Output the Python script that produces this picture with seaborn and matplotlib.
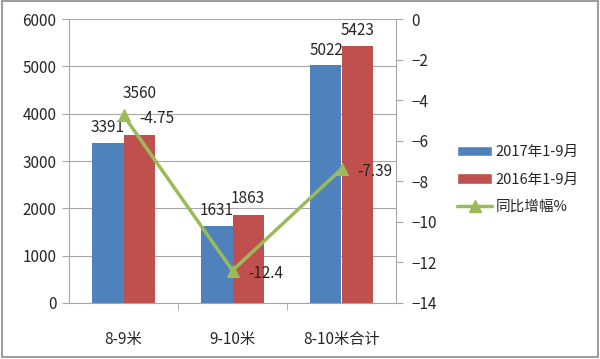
import numpy as np
import pandas as pd
import matplotlib
matplotlib.use("Agg")
import matplotlib.pyplot as plt
from matplotlib.patches import Rectangle, Patch
from matplotlib.lines import Line2D
import seaborn as sns

categories = ["8-9米", "9-10米", "8-10米合计"]
sales_2017 = [3391, 1631, 5022]
sales_2016 = [3560, 1863, 5423]
growth = [-4.75, -12.4, -7.39]
series_names = ["2017年1-9月", "2016年1-9月", "同比增幅%"]

sns.set_style("white")
plt.rcParams["font.family"] = ["Noto Sans CJK SC", "DejaVu Sans"]
plt.rcParams["font.size"] = 11

blue = "#4F81BD"
red = "#C0504D"
green = "#9BBB59"
grey = "#A6A6A6"

df = pd.DataFrame({
    "cat": categories * 2,
    "val": sales_2017 + sales_2016,
    "series": [series_names[0]] * 3 + [series_names[1]] * 3,
})

fig = plt.figure(figsize=(6, 3.59), dpi=100)
ax = fig.add_axes([0.115, 0.156, 0.545, 0.791])

sns.barplot(data=df, x="cat", y="val", hue="series", palette=[blue, red],
            width=0.57, ax=ax, legend=False, saturation=1, linewidth=0, gap=0)
ax.set_ylim(0, 6000)
ax.set_yticks(range(0, 6001, 1000))
ax.set_xlim(-0.5, 2.5)
ax.set_xlabel("")
ax.set_ylabel("")
ax.grid(axis="y", color=grey, linewidth=0.8)
ax.set_axisbelow(True)
for s in ["top", "right"]:
    ax.spines[s].set_visible(False)
for s in ["left", "bottom"]:
    ax.spines[s].set_color(grey)
ax.tick_params(axis="y", length=5, color=grey, direction="out", left=True, pad=4)
ax.tick_params(axis="x", which="major", length=0, pad=20)
ax.set_xticks([0.5, 1.5], minor=True)
ax.tick_params(axis="x", which="minor", length=5, color=grey, direction="out", bottom=True)

# bar labels (3560 sits higher, clear of the line marker)
lift16 = [41, 16, 16]
for i in range(3):
    ax.annotate(str(sales_2017[i]), (i - 0.1425, sales_2017[i]), xytext=(0, 15),
                textcoords="offset pixels", ha="center", va="center")
    ax.annotate(str(sales_2016[i]), (i + 0.1425, sales_2016[i]), xytext=(0, lift16[i]),
                textcoords="offset pixels", ha="center", va="center")

ax2 = ax.twinx()
sns.lineplot(x=[0, 1, 2], y=growth, ax=ax2, color=green, linewidth=2.5,
             marker="^", markersize=9, markeredgecolor=green)
ax2.set_ylim(-14, 0)
ax2.set_yticks(range(-14, 1, 2))
ax2.set_xlim(-0.5, 2.5)
for s in ["top", "left", "bottom"]:
    ax2.spines[s].set_visible(False)
ax2.spines["right"].set_color(grey)
ax2.tick_params(axis="y", length=5, color=grey, direction="out", right=True, pad=6)
for i in range(3):
    ax2.annotate(f"{growth[i]:g}", (i, growth[i]), xytext=(33, -3),
                 textcoords="offset pixels", ha="center", va="center")

handles = [Patch(facecolor=blue), Patch(facecolor=red),
           Line2D([0], [0], color=green, linewidth=2.5, marker="^", markersize=8)]
fig.legend(handles, series_names, loc="center left", bbox_to_anchor=(0.74, 0.5),
           frameon=False, handlelength=2.4, handleheight=0.7, labelspacing=0.9,
           handletextpad=0.25, fontsize=10.5)

fig.add_artist(Rectangle((0.004, 0.006), 0.992, 0.99, transform=fig.transFigure,
                         fill=False, edgecolor="#8C8C8C", linewidth=1.2))

fig.savefig("out.png", dpi=100, facecolor="white")
